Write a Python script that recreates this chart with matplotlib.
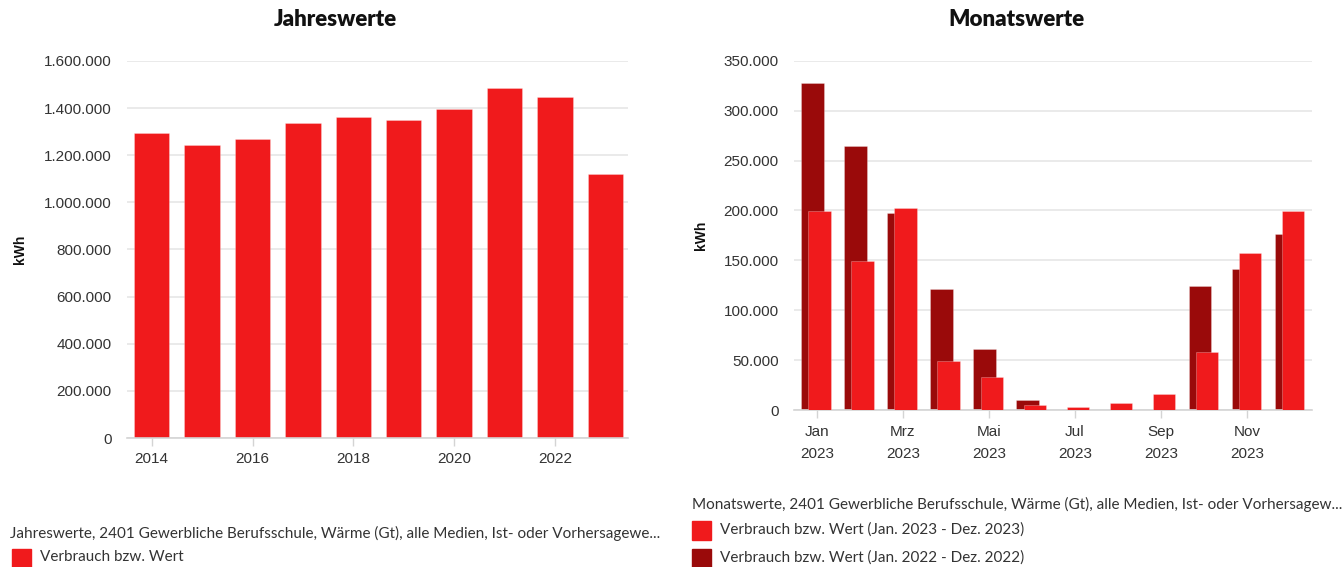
import matplotlib
matplotlib.use("Agg")
import matplotlib.pyplot as plt
from matplotlib.patches import Rectangle
from matplotlib.ticker import FuncFormatter
import numpy as np

# ---- data ----
years = [2014, 2015, 2016, 2017, 2018, 2019, 2020, 2021, 2022, 2023]
annual_kwh = [1294000, 1245000, 1269000, 1337000, 1362000, 1348000, 1398000, 1484000, 1447000, 1119000]

months = ["Jan", "Feb", "Mrz", "Apr", "Mai", "Jun", "Jul", "Aug", "Sep", "Okt", "Nov", "Dez"]
month_tick_labels = ["Jan\n2023", "Mrz\n2023", "Mai\n2023", "Jul\n2023", "Sep\n2023", "Nov\n2023"]
monthly_2023 = [199500, 149000, 202500, 49500, 33500, 5000, 3000, 6700, 15700, 58500, 157000, 199500]
monthly_2022 = [327300, 264200, 197700, 120900, 60800, 10400, 0, 0, 0, 124600, 141600, 176300]

title_left = "Jahreswerte"
title_right = "Monatswerte"
legend_left_title = "Jahreswerte, 2401 Gewerbliche Berufsschule, Wärme (Gt), alle Medien, Ist- oder Vorhersagewe..."
legend_right_title = "Monatswerte, 2401 Gewerbliche Berufsschule, Wärme (Gt), alle Medien, Ist- oder Vorhersagew..."
legend_left_items = ["Verbrauch bzw. Wert"]
legend_right_items = ["Verbrauch bzw. Wert (Jan. 2023 - Dez. 2023)", "Verbrauch bzw. Wert (Jan. 2022 - Dez. 2022)"]

RED = "#f01a1c"
DARK = "#9a0a0a"
GRID = "#e6e6e6"
AXIS = "#d4d4d4"
TXT = "#333333"

W, H = 1342, 567
fig = plt.figure(figsize=(W / 100, H / 100), dpi=100)

def fx(px):
    return px / W

def fy(py):
    return 1 - py / H

def de_fmt(v, pos=None):
    return f"{int(round(v)):,}".replace(",", ".")

TICK_FS = 11

def style_axis(ax):
    for s in ["top", "right", "left"]:
        ax.spines[s].set_visible(False)
    ax.spines["bottom"].set_color(AXIS)
    ax.spines["bottom"].set_linewidth(1.2)
    ax.yaxis.grid(True, color=GRID, linewidth=1.2)
    ax.set_axisbelow(True)
    ax.tick_params(axis="y", length=0, pad=11, labelsize=TICK_FS, labelcolor=TXT)
    ax.tick_params(axis="x", length=6, width=1, color=AXIS, labelsize=TICK_FS, labelcolor=TXT)
    ax.yaxis.set_major_formatter(FuncFormatter(de_fmt))
    for lab in ax.get_xticklabels() + ax.get_yticklabels():
        lab.set_family("Liberation Sans")

edge = (1, 1, 1, 0.3)

# ---- left chart ----
axL = fig.add_axes([fx(127), fy(438), fx(628 - 127), (438 - 61) / H])
axL.bar(years, annual_kwh, width=0.7, color=RED, edgecolor=edge, linewidth=0.6, zorder=2)
axL.set_ylim(0, 1600000)
axL.set_yticks(np.arange(0, 1600001, 200000))
axL.set_xlim(2013.51, 2023.45)
axL.set_xticks(years[::2])
axL.set_xticklabels([str(y) for y in years[::2]])
style_axis(axL)
axL.tick_params(axis="x", pad=4)

# ---- right chart ----
axR = fig.add_axes([fx(794), fy(410), fx(1312 - 794), (410 - 60.7) / H])
idx = np.arange(len(months))
axR.bar(idx - 0.10, monthly_2022, width=0.52, color=DARK, edgecolor=edge, linewidth=0.6, zorder=2)
axR.bar(idx + 0.065, monthly_2023, width=0.52, color=RED, edgecolor=edge, linewidth=0.6, zorder=3)
axR.set_ylim(0, 350000)
axR.set_yticks(np.arange(0, 350001, 50000))
axR.set_xlim(-0.53, 11.51)
axR.set_xticks(idx[::2])
axR.set_xticklabels(month_tick_labels, linespacing=1.7)
style_axis(axR)
axR.tick_params(axis="x", pad=5)

# ---- y labels ----
fig.text(fx(20), fy(249), "kWh", rotation=90, ha="center", va="center",
         fontsize=10, fontweight="bold", family="Liberation Sans", color="#111111")
fig.text(fx(701), fy(235), "kWh", rotation=90, ha="center", va="center",
         fontsize=10, fontweight="bold", family="Liberation Sans", color="#111111")

# ---- titles ----
fig.text(fx(335), fy(20), title_left, ha="center", va="center",
         fontsize=16, fontweight="heavy", family="Lato", color="#111111")
fig.text(fx(1016), fy(20), title_right, ha="center", va="center",
         fontsize=16, fontweight="heavy", family="Lato", color="#111111")

# ---- legends ----
LEG_FS = 11
fig.text(fx(10), fy(533), legend_left_title, ha="left", va="center",
         fontsize=LEG_FS, family="Lato", color=TXT)
fig.patches.append(Rectangle((fx(12), fy(567)), fx(19), 18 / H, transform=fig.transFigure,
                             color=RED, figure=fig))
fig.text(fx(40), fy(557), legend_left_items[0], ha="left", va="center",
         fontsize=LEG_FS, family="Lato", color=TXT)

fig.text(fx(692), fy(504), legend_right_title, ha="left", va="center",
         fontsize=LEG_FS, family="Lato", color=TXT)
for k, (lab, col) in enumerate(zip(legend_right_items, [RED, DARK])):
    yc = 530 + 28 * k
    fig.patches.append(Rectangle((fx(692), fy(yc + 10)), fx(19), 19 / H, transform=fig.transFigure,
                                 color=col, figure=fig))
    fig.text(fx(720), fy(yc), lab, ha="left", va="center",
             fontsize=LEG_FS, family="Lato", color=TXT)

fig.savefig("out.png", dpi=100)
